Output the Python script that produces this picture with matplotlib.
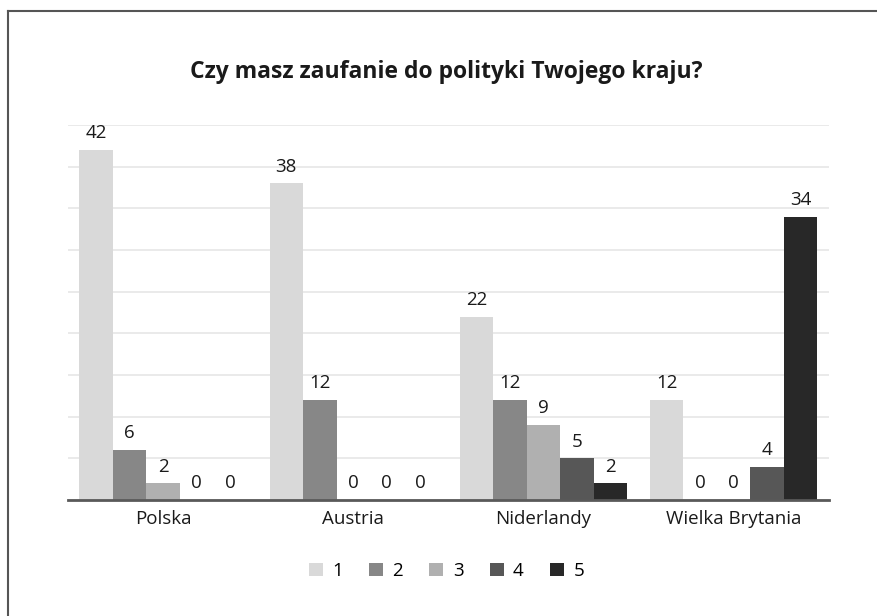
import numpy as np
import matplotlib
matplotlib.use("Agg")
import matplotlib.pyplot as plt
from matplotlib.lines import Line2D

plt.rcParams['font.family'] = ['Open Sans', 'DejaVu Sans']

# dane
kraje = ['Polska', 'Austria', 'Niderlandy', 'Wielka Brytania']
odpowiedzi = ['1', '2', '3', '4', '5']
wartosci = {
    '1': [42, 38, 22, 12],
    '2': [6, 12, 12, 0],
    '3': [2, 0, 9, 0],
    '4': [0, 0, 5, 4],
    '5': [0, 0, 2, 34],
}
kolory = ['#d9d9d9', '#878787', '#b0b0b0', '#575757', '#282828']

fig = plt.figure(figsize=(8.77, 6.16), dpi=100)
ax = fig.add_axes([0.0775, 0.1883, 0.8675, 0.6087])

x = np.arange(len(kraje))
szer = 0.176
for i, odp in enumerate(odpowiedzi):
    pos = x + (i - 2) * szer
    bars = ax.bar(pos, wartosci[odp], width=szer, color=kolory[i], label=odp, zorder=3)
    for b, v in zip(bars, wartosci[odp]):
        ax.annotate(str(v), (b.get_x() + b.get_width() / 2, v), xytext=(0, 8.5),
                    textcoords='offset points', ha='center', va='baseline',
                    fontsize=13.5, color='#1a1a1a')

ax.set_xlim(-0.5, len(kraje) - 0.5)
ax.set_ylim(0, 45)
ax.set_yticks(np.arange(0, 46, 5))
ax.yaxis.grid(True, color='#e6e6e6', linewidth=1.2, zorder=0)
ax.tick_params(axis='y', length=0, labelleft=False)
ax.tick_params(axis='x', length=0, pad=7, labelsize=13.5, colors='#1a1a1a')
ax.set_xticks(x)
ax.set_xticklabels(kraje)
for s in ['top', 'right', 'left']:
    ax.spines[s].set_visible(False)
ax.spines['bottom'].set_color('#595959')
ax.spines['bottom'].set_linewidth(2)
ax.spines['bottom'].set_zorder(4)

fig.text(0.5086, 0.883, 'Czy masz zaufanie do polityki Twojego kraju?', ha='center', va='center',
         fontsize=16.5, fontweight='bold', color='#1a1a1a')

leg = fig.legend(loc='center', bbox_to_anchor=(0.509, 0.073), ncol=5, frameon=False,
                 handlelength=0.75, handleheight=0.75, handletextpad=0.5, columnspacing=1.4,
                 fontsize=13.5)

# ramka (tylko lewa i gorna krawedz widoczna)
fig.add_artist(Line2D([8 / 877, 8 / 877], [0, 1 - 10.5 / 616], transform=fig.transFigure,
                      color='#555555', linewidth=1.5))
fig.add_artist(Line2D([8 / 877, 1], [1 - 10.5 / 616, 1 - 10.5 / 616], transform=fig.transFigure,
                      color='#555555', linewidth=1.5))

fig.savefig('out.png', dpi=100)
